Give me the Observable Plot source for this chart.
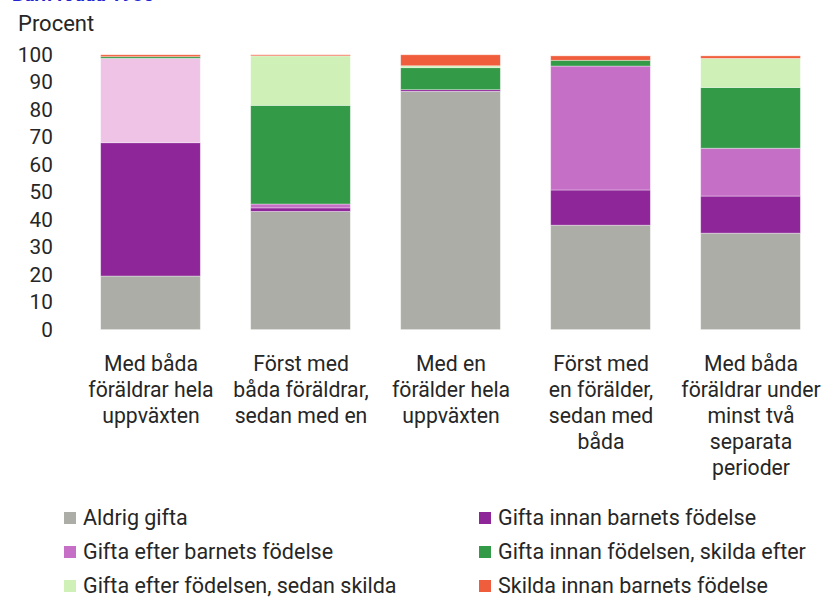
<!DOCTYPE html>
<html>
<head>
<meta charset="utf-8">
<script src="https://cdn.jsdelivr.net/npm/d3@7"></script>
<script src="https://cdn.jsdelivr.net/npm/@observablehq/plot@0.6"></script>
<style>
  html, body { margin: 0; padding: 0; background: #fff; overflow: hidden; }
  #wrap { position: relative; width: 829px; height: 597px; overflow: hidden; font-family: Roboto, "Noto Sans", sans-serif; color: #262626; }
  #title { position: absolute; left: 12px; top: -15px; font-size: 19px; font-weight: bold; color: #2323d2; line-height: 20px; white-space: nowrap; }
  #ylab { position: absolute; left: 18px; top: 12px; font-size: 22px; line-height: 24px; }
  #chart { position: absolute; left: 0; top: 0; }
  .leg { position: absolute; font-size: 21.5px; line-height: 24px; white-space: nowrap; display: flex; align-items: center; }
  .leg span.sw { display: inline-block; width: 12px; height: 12px; margin-right: 7px; }
</style>
</head>
<body>
<div id="wrap">
  <div id="title">Barn födda 1985</div>
  <div id="ylab">Procent</div>
  <div id="chart"></div>
  <div id="legend"></div>
</div>
<script>
const categories = [
  "Med båda\nföräldrar hela\nuppväxten",
  "Först med\nbåda föräldrar,\nsedan med en",
  "Med en\nförälder hela\nuppväxten",
  "Först med\nen förälder,\nsedan med\nbåda",
  "Med båda\nföräldrar under\nminst två\nseparata\nperioder"
];
const series = [
  "Aldrig gifta",
  "Gifta innan barnets födelse",
  "Gifta efter barnets födelse",
  "Gifta innan födelsen, skilda efter",
  "Gifta efter födelsen, sedan skilda",
  "Skilda innan barnets födelse"
];
const aldrigGifta        = [19.5, 43.0, 86.7, 38.0, 35.1];
const giftaInnan         = [48.5,  1.3,  0.6, 12.8, 13.5];
const giftaEfter         = [30.7,  1.4,  0.0, 45.1, 17.4];
const giftaInnanSkilda   = [ 0.6, 35.9,  8.0,  2.1, 22.1];
const giftaEfterSkilda   = [ 0.0, 18.0,  0.7,  0.0, 10.6];
const skildaInnan        = [ 0.7,  0.4,  4.0,  1.6,  0.9];
const seriesValues = [aldrigGifta, giftaInnan, giftaEfter, giftaInnanSkilda, giftaEfterSkilda, skildaInnan];
// segment drawn in a lighter shade in the original (first group, "Gifta efter barnets födelse")
const lightSegment = { category: categories[0], series: series[2] };
const yTicks = [0, 10, 20, 30, 40, 50, 60, 70, 80, 90, 100];

const colors = ["#adada8", "#8e2699", "#c66fc6", "#339b48", "#cff0b6", "#f05d3d"];
const lightKey = series[2] + " (ljus)";
const lightColor = "#efc3e5";

const rows = [];
series.forEach((s, i) => {
  categories.forEach((c, j) => {
    const light = c === lightSegment.category && s === lightSegment.series;
    rows.push({ category: c, series: s, key: light ? lightKey : s, value: seriesValues[i][j] });
  });
});

const plot = Plot.plot({
  width: 840,
  height: 520,
  marginLeft: 75,
  marginRight: 1,
  marginTop: 55.5,
  marginBottom: 186,
  style: { fontFamily: "Roboto, sans-serif", fontSize: "21px", color: "#262626", background: "transparent" },
  x: { domain: categories, paddingInner: 0.335, paddingOuter: 0.1675, label: null },
  y: { domain: [0, 100], label: null },
  color: { domain: [...series, lightKey], range: [...colors, lightColor] },
  marks: [
    Plot.gridY(yTicks, { stroke: "#d9d9d9", strokeOpacity: 1, strokeWidth: 2.2, x1: 76, x2: 840 }),
    Plot.barY(rows, Plot.stackY({ x: "category", y: "value", fill: "key", stroke: "#ffffff", strokeOpacity: 0.45, strokeWidth: 0.8 })),
    Plot.axisY(yTicks, { tickSize: 0, tickPadding: 22, fontSize: 21, label: null }),
    Plot.axisX({ tickSize: 0, tickPadding: 23, fontSize: 21.5, lineHeight: 1.22, label: null })
  ]
});
document.getElementById("chart").appendChild(plot);

const legend = document.getElementById("legend");
const colX = [64, 479];
const rowY = [518, 552, 586];
series.forEach((s, i) => {
  const el = document.createElement("div");
  el.className = "leg";
  el.style.left = colX[i % 2] + "px";
  el.style.top = (rowY[Math.floor(i / 2)] - 12) + "px";
  el.innerHTML = `<span class="sw" style="background:${colors[i]}"></span><span></span>`;
  el.lastChild.textContent = s;
  legend.appendChild(el);
});
</script>
</body>
</html>
